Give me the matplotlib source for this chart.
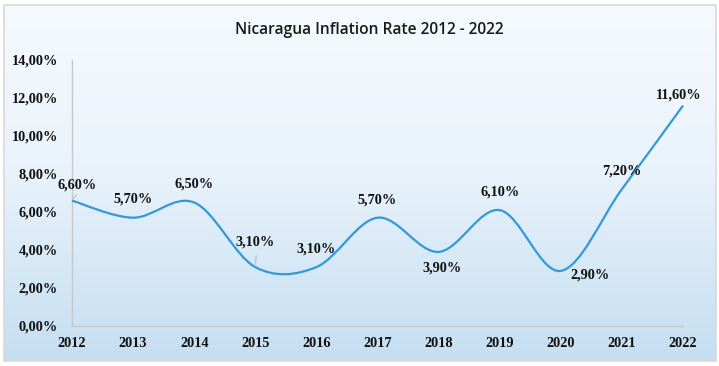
import numpy as np
import matplotlib
matplotlib.use("Agg")
import matplotlib.pyplot as plt
from matplotlib.path import Path
from matplotlib.patches import PathPatch, Rectangle
from matplotlib.colors import LinearSegmentedColormap

years = [2012, 2013, 2014, 2015, 2016, 2017, 2018, 2019, 2020, 2021, 2022]
inflation = [6.6, 5.7, 6.5, 3.1, 3.1, 5.7, 3.9, 6.1, 2.9, 7.2, 11.6]
labels = ["6,60%", "5,70%", "6,50%", "3,10%", "3,10%", "5,70%", "3,90%",
          "6,10%", "2,90%", "7,20%", "11,60%"]
yticks = [0, 2, 4, 6, 8, 10, 12, 14]
ytick_labels = ["0,00%", "2,00%", "4,00%", "6,00%", "8,00%", "10,00%", "12,00%", "14,00%"]
title = "Nicaragua Inflation Rate 2012 - 2022"

# label offsets in pixels (dx, dy) relative to the point (dy positive = up)
label_offsets = [(5, 16), (0, 19), (0, 18), (0, 25), (0, 18), (0, 18),
                 (3, -16), (0, 18), (29, -4), (0, 18), (-4, 11)]

W, H = 719, 366
fig = plt.figure(figsize=(W / 100, H / 100), dpi=100)
fig.patch.set_facecolor("white")

# gradient background
bg = fig.add_axes([4 / W, 5 / H, 712 / W, 356 / H], zorder=0)
cmap = LinearSegmentedColormap.from_list(
    "g", [(0.0, "#c4def1"), (0.55, "#eaf3fb"), (1.0, "#f6fafe")])
grad = np.linspace(0, 1, 256).reshape(-1, 1)
bg.imshow(grad, aspect="auto", cmap=cmap, origin="lower", extent=[0, 1, 0, 1])
bg.set_axis_off()
fig.add_artist(Rectangle((4 / W, 5 / H), 712 / W, 356 / H, transform=fig.transFigure,
                         fill=False, edgecolor="#d9d9d9", linewidth=1.2, zorder=1))

ax = fig.add_axes([72 / W, 40 / H, 611 / W, 266 / H], zorder=2)
ax.set_facecolor("none")
ax.set_xlim(years[0], years[-1])
ax.set_ylim(0, 14)

# smoothed line (Catmull-Rom -> cubic Bezier, like Excel's smoothed line)
x = np.array(years, dtype=float)
y = np.array(inflation, dtype=float)
n = len(x)
verts = [(x[0], y[0])]
codes = [Path.MOVETO]
for i in range(n - 1):
    x0, y0 = (x[i - 1], y[i - 1]) if i > 0 else (x[i], y[i])
    x3, y3 = (x[i + 2], y[i + 2]) if i + 2 < n else (x[i + 1], y[i + 1])
    c1 = (x[i] + (x[i + 1] - x0) / 6, y[i] + (y[i + 1] - y0) / 6)
    c2 = (x[i + 1] - (x3 - x[i]) / 6, y[i + 1] - (y3 - y[i]) / 6)
    verts += [c1, c2, (x[i + 1], y[i + 1])]
    codes += [Path.CURVE4] * 3
ax.add_patch(PathPatch(Path(verts, codes), fill=False, edgecolor="#3499da",
                       linewidth=1.6, clip_on=False, zorder=3))

serif_bold = dict(family="Liberation Serif", weight="bold", size=10.3, color="#111111")
for xi, yi, lab, (dx, dy) in zip(years, inflation, labels, label_offsets):
    ax.annotate(lab, (xi, yi), xytext=(dx, dy), textcoords="offset pixels",
                ha="center", va="center", annotation_clip=False, zorder=4, **serif_bold)

# leader lines
ax.annotate("", (years[0], inflation[0]), xytext=(6, 8), textcoords="offset pixels",
            arrowprops=dict(arrowstyle="-", color="#bfbfbf", lw=0.9), annotation_clip=False)
ax.annotate("", (years[3], inflation[3]), xytext=(1, 14), textcoords="offset pixels",
            arrowprops=dict(arrowstyle="-", color="#bfbfbf", lw=0.9), annotation_clip=False)

ax.set_yticks(yticks)
ax.set_yticklabels(ytick_labels, fontdict=serif_bold)
ax.set_xticks(years)
ax.set_xticklabels([str(v) for v in years], fontdict=serif_bold)
ax.tick_params(axis="y", length=0, pad=10)
ax.tick_params(axis="x", length=0, pad=8)
for s in ["top", "right"]:
    ax.spines[s].set_visible(False)
for s in ["left", "bottom"]:
    ax.spines[s].set_color("#c8c8c8")
    ax.spines[s].set_linewidth(1.0)

fig.text(369 / W, 1 - 30 / H, title, ha="center", va="center",
         family="Open Sans", weight="semibold", size=11.2, color="#1a1a1a")

fig.savefig("out.png", dpi=100)
